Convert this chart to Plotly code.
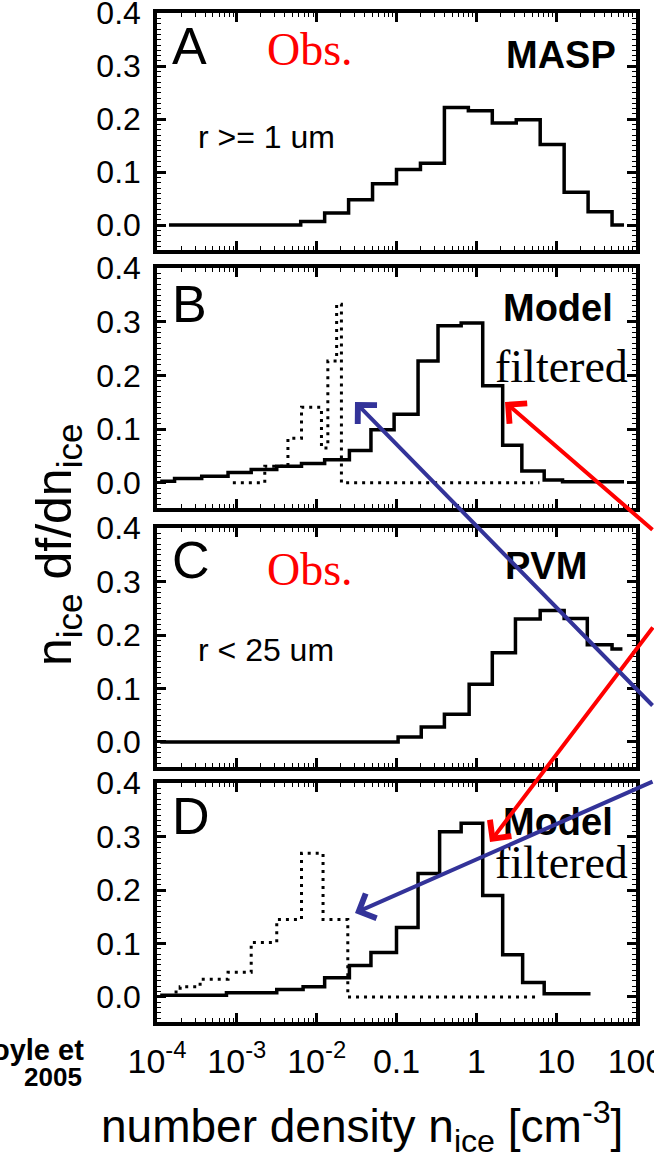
import plotly.graph_objects as go
from plotly.subplots import make_subplots

# ---------------- data (log10 of bin edges in cm^-3, and bin values) ----------------
edges_A_log = [-3.85, -2.2, -1.9, -1.6, -1.3, -1.0, -0.7, -0.4, -0.1, 0.2, 0.5, 0.8, 1.1, 1.4, 1.7, 1.85]
vals_A = [0.0, 0.007, 0.023, 0.048, 0.078, 0.105, 0.117, 0.222, 0.216, 0.193, 0.199, 0.152, 0.062, 0.025, 0.0]

edges_B_log = [-3.96, -3.78, -3.44, -3.11, -2.82, -2.5, -2.19, -1.9, -1.59, -1.32, -1.03, -0.73, -0.48,
               -0.19, 0.08, 0.33, 0.57, 0.85, 1.08, 1.85]
vals_B = [0.003, 0.008, 0.012, 0.019, 0.025, 0.031, 0.036, 0.043, 0.060, 0.099, 0.128, 0.227, 0.293,
          0.298, 0.181, 0.070, 0.022, 0.005, 0.002]

edges_B_dot_log = [-3.05, -2.65, -2.36, -2.19, -1.94, -1.86, -1.75, -1.69, 0.79]
vals_B_dot = [0.0, 0.031, 0.083, 0.141, 0.065, 0.227, 0.333, 0.0]

edges_C_log = [-3.96, -0.98, -0.69, -0.4, -0.09, 0.2, 0.49, 0.8, 1.1, 1.39, 1.7, 1.83]
vals_C = [0.0, 0.009, 0.028, 0.052, 0.108, 0.167, 0.230, 0.246, 0.231, 0.182, 0.174]

edges_D_log = [-3.96, -3.13, -2.5, -2.17, -1.9, -1.59, -1.32, -1.0, -0.73, -0.46, -0.19, 0.08, 0.33,
               0.58, 0.85, 1.43]
vals_D = [0.003, 0.008, 0.014, 0.019, 0.036, 0.059, 0.083, 0.130, 0.231, 0.309, 0.325, 0.190, 0.079,
          0.027, 0.006]

edges_D_dot_log = [-3.78, -3.71, -3.46, -3.11, -2.82, -2.5, -2.19, -1.92, -1.61, 0.79]
vals_D_dot = [0.009, 0.019, 0.033, 0.046, 0.102, 0.145, 0.269, 0.145, 0.0]

x_tickvals = [1e-4, 1e-3, 1e-2, 0.1, 1, 10, 100]
x_ticktext = ["10<sup>-4</sup>", "10<sup>-3</sup>", "10<sup>-2</sup>", "0.1", "1", "10", "100"]
y_tickvals = [0.0, 0.1, 0.2, 0.3, 0.4]
y_ticktext = ["0.0", "0.1", "0.2", "0.3", "0.4"]

panel_letters = ["A", "B", "C", "D"]

# ---------------- layout geometry ----------------
W, H = 654, 1159
L, R, T, B = 157, 18, 13, 137
PW = W - L - R
PH = H - T - B


def px(x):
    return (x - L) / PW


def py(y):
    return (H - B - y) / PH


panel_px = [(13, 250), (268, 508), (528, 767), (783, 1022)]

fig = make_subplots(rows=4, cols=1)

SANS = "Liberation Sans, Arial, Helvetica, sans-serif"
SERIF = "Liberation Serif, Times New Roman, serif"


def step_xy(edges_log, vals):
    xs = [10 ** e for e in edges_log]
    ys = list(vals) + [vals[-1]]
    return xs, ys


solid = [(edges_A_log, vals_A), (edges_B_log, vals_B), (edges_C_log, vals_C), (edges_D_log, vals_D)]
dotted = {2: (edges_B_dot_log, vals_B_dot), 4: (edges_D_dot_log, vals_D_dot)}

for i, (e, v) in enumerate(solid, start=1):
    if i in dotted:
        de, dv = dotted[i]
        xs, ys = step_xy(de, dv)
        fig.add_trace(go.Scatter(x=xs, y=ys, mode="lines",
                                 line=dict(color="black", width=3, shape="hv", dash="3px,5px"),
                                 showlegend=False, hoverinfo="skip"), row=i, col=1)
    xs, ys = step_xy(e, v)
    fig.add_trace(go.Scatter(x=xs, y=ys, mode="lines",
                             line=dict(color="black", width=3.5, shape="hv"),
                             showlegend=False, hoverinfo="skip"), row=i, col=1)

minor_x = []
for d in [1e-4, 1e-3, 1e-2, 1e-1, 1, 10]:
    for m in range(2, 10):
        minor_x.append(d * m)

for i, (top, bot) in enumerate(panel_px, start=1):
    fig.update_yaxes(
        domain=[py(bot), py(top)], range=[-0.047, 0.4005],
        tickvals=y_tickvals, ticktext=y_ticktext,
        showline=True, linewidth=3.5, linecolor="black", mirror="allticks",
        ticks="inside", ticklen=9, tickwidth=2.5, tickcolor="black",
        minor=dict(ticks="inside", ticklen=4, tickwidth=1.3, tickcolor="black", dtick=0.01, tick0=0,
                   showgrid=False),
        showgrid=False, zeroline=False,
        tickfont=dict(family=SANS, size=32, color="black"),
        ticklabelstandoff=6,
        ticklabeloverflow="allow",
        row=i, col=1)
    fig.update_xaxes(
        type="log", range=[-4, 2],
        tickvals=x_tickvals, ticktext=x_ticktext,
        showline=True, linewidth=3.5, linecolor="black", mirror="allticks",
        ticks="inside", ticklen=9, tickwidth=2.5, tickcolor="black",
        minor=dict(ticks="inside", ticklen=4, tickwidth=1.3, tickcolor="black", tickvals=minor_x,
                   showgrid=False),
        showgrid=False, zeroline=False,
        showticklabels=(i == 4),
        ticklabeloverflow="allow",
        tickfont=dict(family=SANS, size=34, color="black"),
        ticklabelstandoff=6,
        row=i, col=1)

annotations = []


def txt(text, x, y, size, family=SANS, color="black", xanchor="center", yanchor="middle", **kw):
    annotations.append(dict(text=text, x=px(x), y=py(y), xref="paper", yref="paper",
                            xanchor=xanchor, yanchor=yanchor, showarrow=False,
                            font=dict(family=family, size=size, color=color), **kw))


# panel letters
letter_pos = [(189, 46), (189, 304), (191, 560), (191, 816)]
for letter, (x, y) in zip(panel_letters, letter_pos):
    txt(letter, x, y, 52)

txt("Obs.", 310, 50, 46, family=SERIF, color="red")
txt("Obs.", 310, 569, 46, family=SERIF, color="red")
txt("<b>MASP</b>", 561, 55, 38)
txt("<b>PVM</b>", 546, 566, 38)
txt("<b>Model</b>", 558, 308, 38)
txt("<b>Model</b>", 558, 822, 38)
txt("r >= 1 um", 266, 137, 32)
txt("r < 25 um", 266, 650, 32)
txt("filtered", 561, 366, 46, family=SERIF)
txt("filtered", 561, 862, 46, family=SERIF)

txt("<b>Hoyle et</b>", 86, 1050, 29, xanchor="right")
txt("<b>2005</b>", 84, 1077, 26, xanchor="right")

txt("n<sub>ice</sub> df/dn<sub>ice</sub>", 57, 545, 50, textangle=-90)
txt("number density n<sub>ice</sub> [cm<sup>-3</sup>]", 362, 1126, 46)


# arrows (tip position, tail offset in pixels)
def arrow(tipx, tipy, tailx, taily, color):
    annotations.append(dict(text="", x=px(tipx), y=py(tipy), xref="paper", yref="paper",
                            ax=tailx - tipx, ay=taily - tipy, showarrow=True,
                            arrowhead=4, arrowsize=1.3, arrowwidth=4, arrowcolor=color,
                            standoff=0))


RED = "#ff0000"
BLUE = "#333399"
arrow(505, 402, 668, 531, RED)
arrow(490, 842, 668, 626, RED)
arrow(355, 402, 668, 707, BLUE)
arrow(355, 913, 668, 781, BLUE)

fig.update_layout(
    width=W, height=H,
    margin=dict(l=L, r=R, t=T, b=B, autoexpand=False),
    paper_bgcolor="white", plot_bgcolor="white",
    showlegend=False,
    annotations=annotations,
)

fig.write_html("out.html")
